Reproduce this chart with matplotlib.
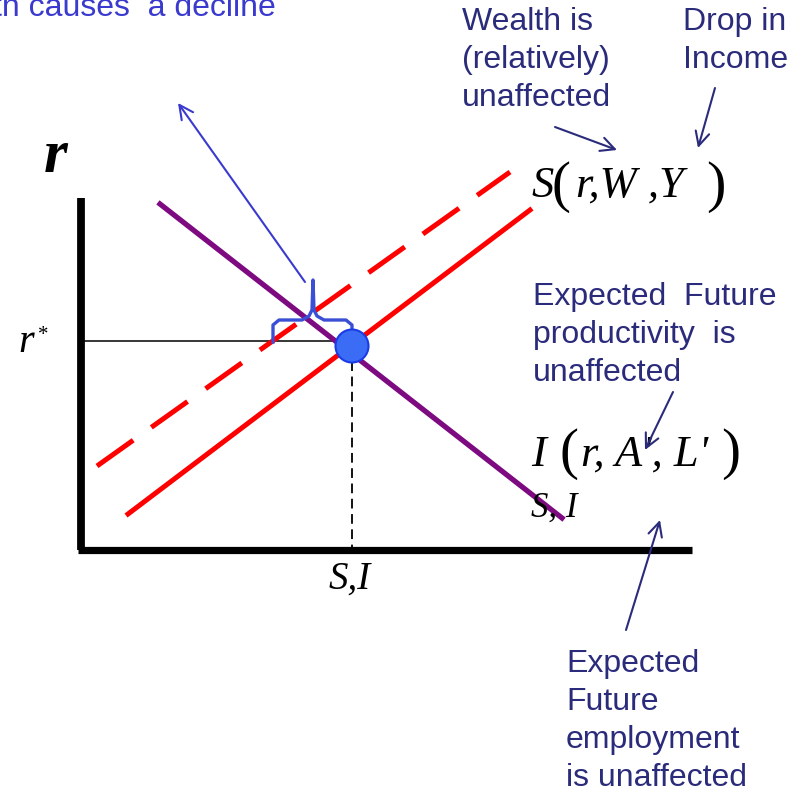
import matplotlib.pyplot as plt
from matplotlib.patches import Circle

plt.rcParams['lines.scale_dashes'] = False

# curves (pixel coordinates of the slide, y pointing down)
supply_x = [128, 530]
supply_y = [514, 210]
shifted_x = [97, 510]
shifted_y = [466, 172]
invest_x = [160, 562]
invest_y = [204, 518]
eq_x, eq_y = 352, 346
axis_origin = (81, 550)
axis_top = 198
axis_right = 692

# brace over the gap between the old and new savings curves
brace_x = [273, 273, 279, 302, 309, 312, 313, 314, 317, 324, 346, 352, 352]
brace_y = [342, 325, 320, 320, 316, 310, 280, 310, 316, 320, 320, 325, 342]

# annotation texts: (x, first baseline, lines)
notes = [
    (462, 30, ['Wealth is', '(relatively)', 'unaffected']),
    (683, 30, ['Drop in', 'Income']),
    (533, 305, ['Expected  Future', 'productivity  is', 'unaffected']),
    (566, 672, ['Expected', 'Future', 'employment', 'is unaffected']),
]
line_gap = 38

navy = '#2b2b7c'
blue = '#3a3acf'
serif = 'Liberation Serif'
sans = 'Liberation Sans'

fig = plt.figure(figsize=(7.98, 7.94), dpi=100)
ax = fig.add_axes([0, 0, 1, 1])
ax.set_xlim(0, 798)
ax.set_ylim(794, 0)
ax.axis('off')

# axes of the diagram
ax.plot([axis_origin[0], axis_origin[0]], [axis_top, axis_origin[1]], color='black', lw=5.6, solid_capstyle='butt')
ax.plot([axis_origin[0] - 3, axis_right], [axis_origin[1], axis_origin[1]], color='black', lw=5.2, solid_capstyle='butt')

# equilibrium guides
ax.plot([axis_origin[0], eq_x], [341, 341], color='black', lw=1.1)
ax.plot([eq_x, eq_x], [eq_y, axis_origin[1] - 3], color='black', lw=1.3, dashes=(7, 4))

# curves
ax.plot(shifted_x, shifted_y, color='#ff0000', lw=3.6, dashes=(32, 16), solid_capstyle='butt')
ax.plot(supply_x, supply_y, color='#ff0000', lw=3.6)
ax.plot(invest_x, invest_y, color='#7d0a80', lw=3.8)

ax.plot(brace_x, brace_y, color='#3a4fd6', lw=2.4, solid_joinstyle='round')
ax.add_patch(Circle((eq_x, eq_y), 16.5, facecolor='#3b6cf6', edgecolor='#1a3be6', lw=1.5, zorder=5))

# math labels
ax.text(44, 172, 'r', fontfamily=serif, style='italic', weight='bold', fontsize=44, va='baseline')
ax.text(18, 352, 'r', fontfamily=serif, style='italic', fontsize=29, va='baseline')
ax.text(38, 340, '*', fontfamily=serif, fontsize=15, va='baseline')
ax.text(329, 589, 'S,I', fontfamily=serif, style='italic', fontsize=28, va='baseline')

ax.text(531, 197, 'S', fontfamily=serif, style='italic', fontsize=32, va='baseline')
ax.text(551, 201, '(', fontfamily=serif, fontsize=41, va='baseline')
ax.text(576, 197, 'r,W ,Y', fontfamily=serif, style='italic', fontsize=32, va='baseline')
ax.text(706, 201, ')', fontfamily=serif, fontsize=42, va='baseline')

ax.text(531, 466, 'I', fontfamily=serif, style='italic', fontsize=32, va='baseline')
ax.text(559, 468, '(', fontfamily=serif, fontsize=41, va='baseline')
ax.text(581, 466, "r, A', L'", fontfamily=serif, style='italic', fontsize=32, va='baseline')
ax.text(721, 468, ')', fontfamily=serif, fontsize=41, va='baseline')

ax.text(531, 517, 'S, I', fontfamily=serif, style='italic', fontsize=25, va='baseline')

# annotations (the first one is cut at the left edge, as on the slide)
ax.text(276, 16, 'th causes  a decline', fontfamily=sans, fontsize=23, color=blue, ha='right', va='baseline')
for x, y0, lines in notes:
    for i, line in enumerate(lines):
        ax.text(x, y0 + i * line_gap, line, fontfamily=sans, fontsize=23, color=navy, va='baseline')

arrow = dict(arrowstyle='->', lw=1.5, mutation_scale=25, shrinkA=0, shrinkB=0)
ax.annotate('', xy=(178, 103), xytext=(305, 282), arrowprops=dict(arrow, color=blue))
ax.annotate('', xy=(617, 150), xytext=(555, 127), arrowprops=dict(arrow, color=navy))
ax.annotate('', xy=(698, 148), xytext=(715, 88), arrowprops=dict(arrow, color=navy))
ax.annotate('', xy=(645, 450), xytext=(673, 392), arrowprops=dict(arrow, color=navy))
ax.annotate('', xy=(660, 520), xytext=(626, 630), arrowprops=dict(arrow, color=navy))

fig.savefig('out.png', dpi=100)
